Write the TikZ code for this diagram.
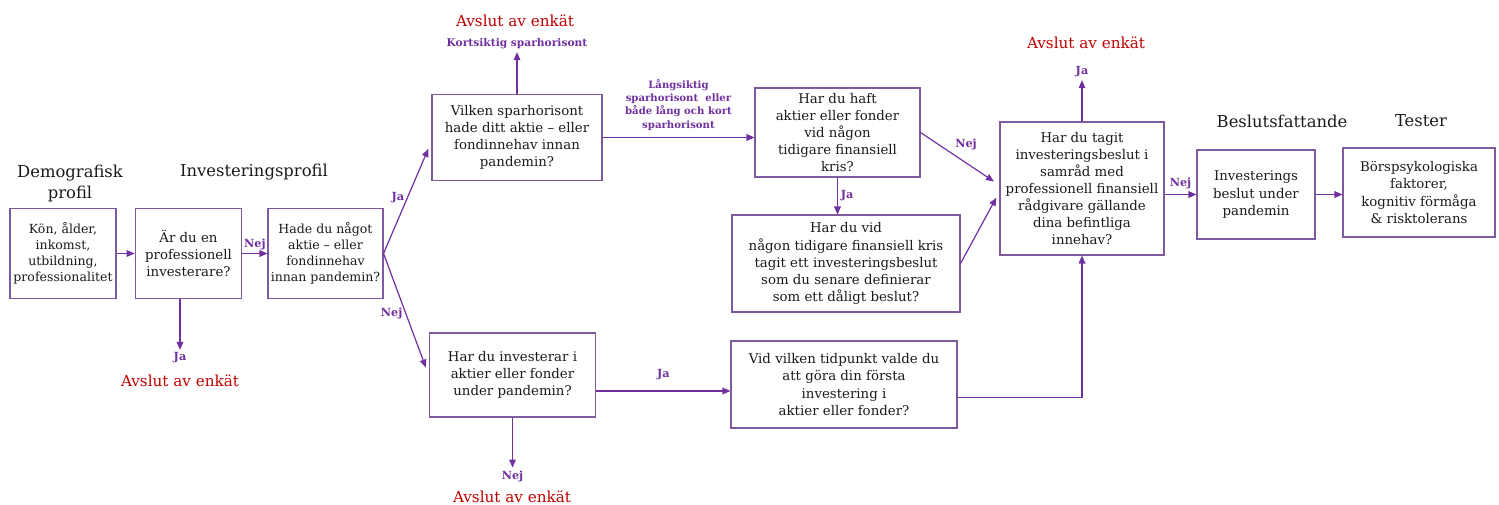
\documentclass[tikz,border=0pt]{standalone}
\usepackage{fontspec}
\setmainfont{DejaVu Serif}
\usetikzlibrary{arrows.meta}
\definecolor{lila}{HTML}{7030A0}
\definecolor{ram}{HTML}{7F5A9E}
\definecolor{rod}{HTML}{C00000}
\definecolor{mork}{HTML}{1A1A1A}
\tikzset{
  fraga/.style={draw=ram,line width=0.8pt,align=center,text=mork,inner sep=1pt,
    font=\fontsize{10}{12.8}\selectfont},
  rubrik/.style={align=center,text=mork,font=\fontsize{12.3}{15.75}\selectfont},
  avslut/.style={text=rod,font=\fontsize{11.4}{13}\selectfont},
  etikett/.style={text=lila,align=center,inner sep=2pt,font=\bfseries\fontsize{8.4}{10}\selectfont},
  liten/.style={etikett,font=\bfseries\fontsize{7.6}{10}\selectfont},
  pil/.style={draw=lila,line width=0.9pt,-{Triangle[length=6pt,width=5pt]}},
}
\begin{document}
\begin{tikzpicture}[x=0.75pt,y=-0.75pt]
  \useasboundingbox (0,0) rectangle (1499,504);

  % rubriker
  \node[rubrik] (demo) at (70,183) {Demografisk\\profil};
  \node[rubrik] (invprof) at (254,172) {Investeringsprofil};
  \node[rubrik] (beslut) at (1282,121) {Beslutsfattande};
  \node[rubrik] (tester) at (1421,121) {Tester};

  % fragor
  \node[fraga,minimum width=79.5pt,minimum height=68pt,font=\fontsize{9.4}{12}\selectfont] (b1) at (63,253.5)
    {Kön, ålder,\\inkomst,\\utbildning,\\professionalitet};
  \node[fraga,minimum width=80pt,minimum height=68pt] (b2) at (188.5,253.5)
    {Är du en\\professionell\\investerare?};
  \node[fraga,minimum width=86.25pt,minimum height=68pt,font=\fontsize{9.4}{12}\selectfont] (b3) at (325.5,253.5)
    {Hade du något\\aktie – eller\\fondinnehav\\innan pandemin?};
  \node[fraga,minimum width=127.5pt,minimum height=64pt] (b4) at (517,137.5)
    {Vilken sparhorisont\\hade ditt aktie – eller\\fondinnehav innan\\pandemin?};
  \node[fraga,minimum width=125pt,minimum height=63pt] (b5) at (512.5,375)
    {Har du investerar i\\aktier eller fonder\\under pandemin?};
  \node[fraga,minimum width=123.75pt,minimum height=66.75pt] (b6) at (837.5,132.5)
    {Har du haft\\aktier eller fonder\\vid någon\\tidigare finansiell\\kris?};
  \node[fraga,minimum width=171pt,minimum height=72.75pt] (b7) at (846,263.5)
    {Har du vid\\någon tidigare finansiell kris\\tagit ett investeringsbeslut\\som du senare definierar\\som ett dåligt beslut?};
  \node[fraga,minimum width=169.5pt,minimum height=65.25pt] (b8) at (844,384.5)
    {Vid vilken tidpunkt valde du\\att göra din första\\investering i\\aktier eller fonder?};
  \node[fraga,minimum width=123pt,minimum height=99.75pt] (b9) at (1082,188.5)
    {Har du tagit\\investeringsbeslut i\\samråd med\\professionell finansiell\\rådgivare gällande\\dina befintliga\\innehav?};
  \node[fraga,minimum width=88.5pt,minimum height=66.75pt] (b10) at (1256,194.5)
    {Investerings\\beslut under\\pandemin};
  \node[fraga,minimum width=114pt,minimum height=66.75pt] (b11) at (1419,192.5)
    {Börspsykologiska\\faktorer,\\kognitiv förmåga\\\& risktolerans};

  % slut pa enkaten
  \node[etikett] (ja2) at (180,358) {Ja};
  \node[avslut] (slut2) at (180,381) {Avslut av enkät};
  \node[etikett,font=\bfseries\fontsize{8}{10}\selectfont] (kort) at (517,44) {Kortsiktig sparhorisont};
  \node[avslut] (slut4) at (515,21) {Avslut av enkät};
  \node[etikett] (nej5) at (512.5,476) {Nej};
  \node[avslut] (slut5) at (512,497) {Avslut av enkät};
  \node[etikett] (ja9) at (1082,72) {Ja};
  \node[avslut] (slut9) at (1086,43) {Avslut av enkät};

  % pilar
  \draw[pil] (b1) -- (b2);
  \draw[pil] (b2) -- node[etikett,above] {Nej} (b3);
  \draw[pil] (ja2 |- b2.south) -- (ja2);
  \draw[pil,shorten >=6pt] (b3.east) -- node[etikett,left] {Ja} ([yshift=-3pt]b4.west);
  \draw[pil,shorten >=6pt] (b3.east) -- node[etikett,left,pos=.49] {Nej} (b5.west);
  \draw[pil] (b4.north) -- (kort);
  \draw[pil] (b4.east) -- node[liten,above=3pt]
    {Långsiktig\\sparhorisont\ \ eller\\både lång och kort\\sparhorisont} (b4.east -| b6.west);
  \draw[pil] (b5.south) -- (nej5);
  \coordinate (ut5) at ([yshift=-12pt]b5.east);
  \draw[pil] (ut5) -- node[etikett,above=6pt] {Ja} (ut5 -| b8.west);
  \draw[pil] (b6.south) -- node[etikett,right] {Ja} (b6.south |- b7.north);
  \draw[pil,shorten >=5pt] (b6.east) -- node[etikett,above right,pos=.4] {Nej} ([yshift=2.5pt]b9.west);
  \draw[pil,shorten >=5pt] (b7.east) -- ([yshift=-2.5pt]b9.west);
  \coordinate (ut8) at ([yshift=-10pt]b8.east);
  \draw[pil] (ut8) -| (b9.south);
  \draw[pil] (b9.north) -- (ja9);
  \draw[pil] (b9.east |- b10.west) -- node[etikett,above=2pt] {Nej} (b10.west);
  \draw[pil] (b10.east) -- (b10.east -| b11.west);
\end{tikzpicture}
\end{document}
